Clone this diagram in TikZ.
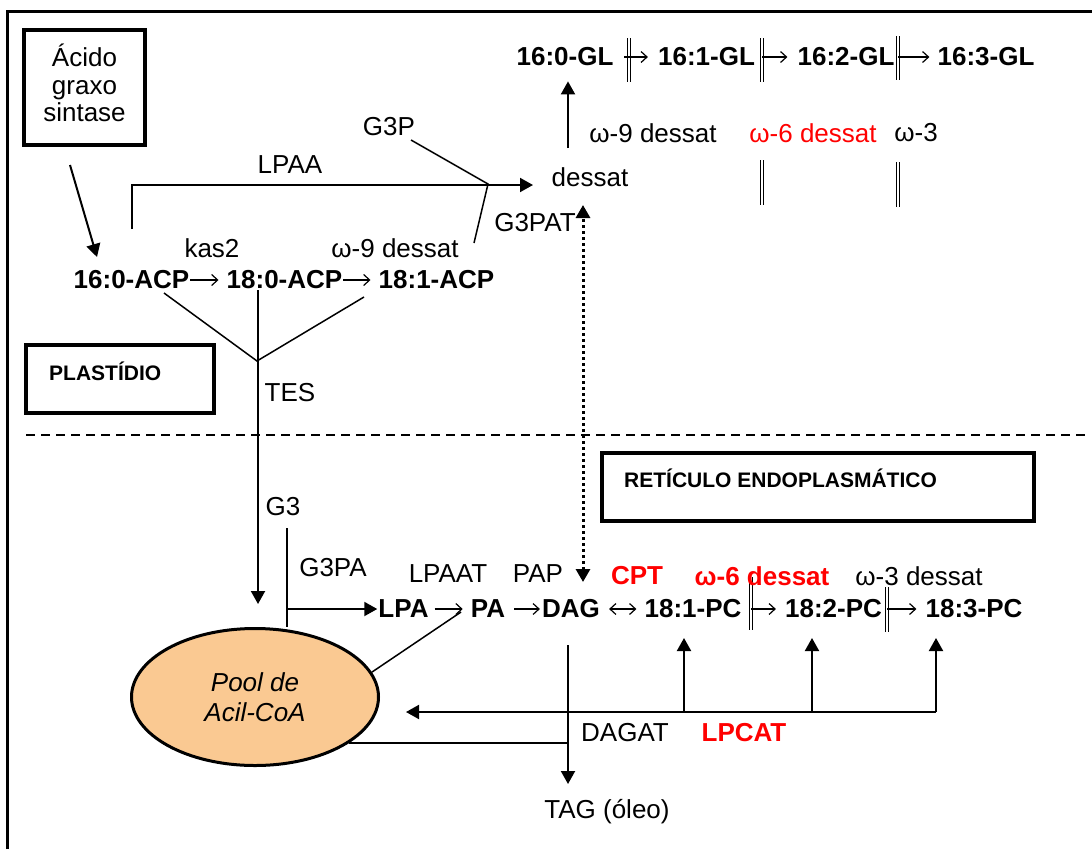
\documentclass[tikz,border=0pt]{standalone}
\usepackage{fontspec}
\setmainfont{Liberation Sans}
\usetikzlibrary{arrows.meta,shapes.geometric}
\definecolor{poolfill}{RGB}{250,201,146}
\begin{document}
\begin{tikzpicture}[x=1pt,y=-1pt,
  txt/.style={font=\fontsize{26}{30}\selectfont, inner sep=1pt},
  bf/.style={font=\fontsize{26}{30}\selectfont\bfseries, inner sep=1pt},
  lbl/.style={font=\fontsize{21}{25}\selectfont\bfseries, inner sep=0pt},
  hl/.style={text=red},
  thinline/.style={line width=1.5pt},
  arr/.style={line width=2pt, -{Triangle[length=13pt,width=14pt]}},
  tarr/.style={line width=1.2pt, -{Straight Barb[length=6pt,width=11pt]}},
  tdarr/.style={line width=1.2pt, {Straight Barb[length=6pt,width=11pt]}-{Straight Barb[length=6pt,width=11pt]}},
  bar/.style={double, double distance=2.5pt, line width=1pt},
  regionbox/.style={draw, line width=4pt, inner sep=0pt},
  dotarr/.style={line width=3pt, dash pattern=on 3pt off 3pt, {Triangle[length=13pt,width=14pt]}-{Triangle[length=13pt,width=14pt]}},
]
\useasboundingbox (0,0) rectangle (1092,849);
% frame
\draw[line width=3pt] (7,849) -- (7,11) -- (1092,11);

% fatty acid synthase box
\node[regionbox, minimum width=121pt, minimum height=115pt] (fasbox) at (84.5,87.5) {};
\node[align=center, inner sep=0pt, font=\fontsize{26}{27.5}\selectfont] (fas) at (84.5,83) {Ácido\\graxo\\sintase};

% ===== plastid GL row =====
\node[bf] (gl0) at (565,57) {16:0-GL};
\node[bf] (gl1) at (706.5,57) {16:1-GL};
\node[bf] (gl2) at (846,57) {16:2-GL};
\node[bf] (gl3) at (986,57) {16:3-GL};
\coordinate (g1t) at (629,38); \coordinate (g1b) at (629,82);
\coordinate (g2t) at (762,38); \coordinate (g2b) at (762,82);
\coordinate (g3t) at (898,36); \coordinate (g3b) at (898,80);
\draw[bar] (g1t) -- (g1b);
\draw[bar] (g2t) -- (g2b);
\draw[bar] (g3t) -- (g3b);
\coordinate (a1) at (624,57);
\draw[tarr, shorten >=9pt] (a1) -- (gl1.west);
\draw[tarr, shorten >=9pt] (g2t |- gl2) -- (gl2.west);
\draw[tarr, shorten >=7pt] (g3t |- gl3) -- (gl3.west);
\draw[bar] (762,160) -- (762,205);
\draw[bar] (898,162) -- (898,207);

\node[txt] (w9gl) at (653,133) {ω-9 dessat};
\node[txt, hl] (w6gl) at (813,133) {ω-6 dessat};
\node[txt] (w3gl) at (916,133) {ω-3};
\node[txt] (dessat) at (590,177) {dessat};
\coordinate (up0) at (568,148);
\draw[arr, shorten >=14pt] (up0) -- (up0 |- gl0.south);

% ===== ACP row =====
\node[bf] (acp16) at (131.5,280) {16:0-ACP};
\node[bf] (acp18) at (284.5,280) {18:0-ACP};
\node[bf] (acp181) at (436.5,280) {18:1-ACP};
\draw[tarr, shorten >=7pt] (acp16.east) -- (acp18.west);
\draw[tarr, shorten >=7pt] (acp18.east) -- (acp181.west);
\node[txt] (kas) at (212,248) {kas2};
\node[txt] (w9acp) at (395,248) {ω-9 dessat};

% FAS arrow
\coordinate (fas0) at (70,165);
\coordinate (fas1) at (97,257);
\draw[arr] (fas0) -- (fas1);

% LPAA
\node[txt] (lpaa) at (290,165) {LPAA};
\coordinate (lp0) at (132,229);
\coordinate (lp1) at (533,185);
\draw[arr] (lp0) |- (lp1);
\node[txt] (g3p) at (389,127) {G3P};
\coordinate (g3pa) at (411,140);
\coordinate (g3pj) at (488,184);
\coordinate (g3pb) at (474,243);
\draw[thinline] (g3pa) -- (g3pj) -- (g3pb);
\node[txt] (g3pat) at (535,223) {G3PAT};

% TES
\coordinate (t1) at (164,293);
\coordinate (t2) at (364,297);
\coordinate (tesj) at (257,361);
\draw[thinline] (t1) -- (tesj) -- (t2);
\coordinate (tes0) at (258,290);
\coordinate (tes1) at (258,604);
\draw[arr] (tes0) -- (tes1);
\node[txt] (tes) at (290,393) {TES};

% plastid label box
\node[regionbox, minimum width=188pt, minimum height=68pt] (plastbox) at (120,379) {};
\node[lbl, anchor=west] (plast) at (49,371) {PLASTÍDIO};

% membrane boundary
\coordinate (m0) at (26,435);
\coordinate (m1) at (1085,435);
\draw[line width=1.5pt, dash pattern=on 9pt off 6pt] (m0) -- (m1);

% ER label box
\node[regionbox, minimum width=432pt, minimum height=68pt] (erbox) at (818,487) {};
\node[lbl, anchor=west] (er) at (624,478) {RETÍCULO ENDOPLASMÁTICO};

% ===== ER row =====
\node[bf] (lpa) at (403.5,609) {LPA};
\node[bf] (pa) at (488,609) {PA};
\node[bf] (dag) at (571,609) {DAG};
\node[bf] (pc181) at (693,609) {18:1-PC};
\node[bf] (pc182) at (833.5,609) {18:2-PC};
\node[bf] (pc183) at (974,609) {18:3-PC};
\draw[tarr, shorten <=5pt, shorten >=7pt] (lpa.east) -- (pa.west);
\draw[tarr, shorten <=8pt, shorten >=1pt] (pa.east) -- (dag.west);
\draw[tdarr, shorten <=8pt, shorten >=7pt] (dag.east) -- (pc181.west);
\coordinate (p1t) at (751,577); \coordinate (p1b) at (751,630);
\coordinate (p2t) at (887,587); \coordinate (p2b) at (887,632);
\draw[bar] (p1t) -- (p1b);
\draw[bar] (p2t) -- (p2b);
\draw[tarr, shorten >=8pt] (p1t |- pc182) -- (pc182.west);
\draw[tarr, shorten >=8pt] (p2t |- pc183) -- (pc183.west);

\node[txt] (lpaat) at (448,574) {LPAAT};
\node[txt] (pap) at (538,574) {PAP};
\node[bf, hl] (cpt) at (637,576) {CPT};
\node[bf, hl] (w6pc) at (762,576) {ω-6 dessat};
\node[txt] (w3pc) at (919,576) {ω-3 dessat};

% G3 / G3PA
\node[txt] (g3) at (283,507) {G3};
\node[txt] (g3palbl) at (333,568) {G3PA};
\coordinate (gv0) at (287,528);
\coordinate (gv1) at (287,627);
\draw[thinline] (gv0) -- (gv1);
\coordinate (gh0) at (287,609);
\draw[arr] (gh0) -- (lpa.west);

% dotted transfer
\coordinate (dt0) at (583,582);
\coordinate (dt1) at (583,205);
\draw[dotarr] (dt0) -- (dt1);

% acyl-CoA pool
\node[ellipse, draw, line width=3pt, fill=poolfill, minimum width=247pt, minimum height=137pt,
      inner sep=0pt, align=center, font=\fontsize{26}{30}\selectfont\itshape] (pool) at (255,697) {Pool de\\Acil-CoA};
\coordinate (lpapa) at (461,612);
\draw[thinline] (pool.12) -- (lpapa);

% DAGAT
\node[txt] (tag) at (607,812) {TAG (óleo)};
\coordinate (dg0) at (568,645);
\coordinate (dg1) at (568,784);
\draw[arr] (dg0) -- (dg1);
\draw[thinline] (pool.-26) -- (pool.-26 -| dg0);
\node[txt] (dagat) at (625,733) {DAGAT};
\node[bf, hl] (lpcat) at (744,733) {LPCAT};

% LPCAT return
\coordinate (r0) at (936,712);
\coordinate (rl) at (406,712);
\draw[arr] (r0) -- (rl);
\coordinate (u1) at (684,712); \coordinate (u1t) at (684,638);
\coordinate (u2) at (812,712); \coordinate (u2t) at (812,638);
\coordinate (u3) at (936,712); \coordinate (u3t) at (936,638);
\draw[arr] (u1) -- (u1t);
\draw[arr] (u2) -- (u2t);
\draw[arr] (u3) -- (u3t);
\end{tikzpicture}
\end{document}
